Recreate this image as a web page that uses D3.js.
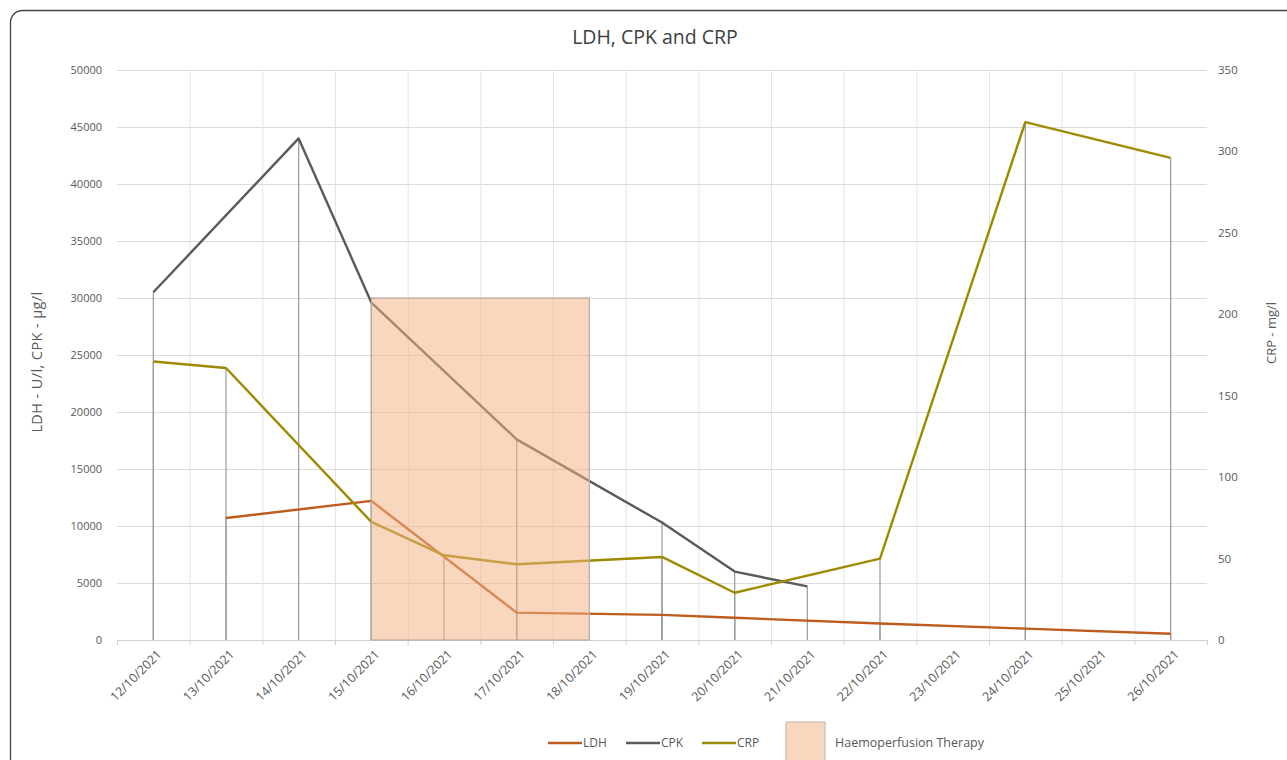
<!DOCTYPE html>
<html>
<head>
<meta charset="utf-8">
<script src="https://cdn.jsdelivr.net/npm/d3@7"></script>
<style>
  body { margin: 0; background: #fff; }
  text { font-family: "Open Sans", "Noto Sans", sans-serif; fill: #595959; }
</style>
</head>
<body>
<div id="divChart"></div>
<script>
// categories on the x axis
var dates = ['12/10/2021','13/10/2021','14/10/2021','15/10/2021','16/10/2021','17/10/2021','18/10/2021',
  '19/10/2021','20/10/2021','21/10/2021','22/10/2021','23/10/2021','24/10/2021','25/10/2021','26/10/2021'];

// series values, null where nothing was measured
var ldhValues = [null, 10700, null, 12200, null, 2400, null, 2200, 1950, null, 1450, null, 1000, null, 550];
var cpkValues = [30500, null, 44000, 29600, null, 17600, null, 10300, 6000, 4700, null, null, null, null, null];
var crpValues = [171, 167, null, 72.5, 52, 46.5, null, 51, 29, null, 50, null, 318, null, 296];

// left and right axis ticks
var leftTicks = [0, 5000, 10000, 15000, 20000, 25000, 30000, 35000, 40000, 45000, 50000];
var rightTicks = [0, 50, 100, 150, 200, 250, 300, 350];

// therapy window
var therapyStart = '15/10/2021';
var therapyEnd = '18/10/2021';
var therapyTop = 30000;

var width = 1287, height = 760;
var plot = {left: 117, right: 1207, top: 70, bottom: 640};

var svg = d3.select('#divChart').append('svg')
  .attr('width', width)
  .attr('height', height);

// outer frame, cut by the page edges like in the picture
svg.append('rect')
  .attr('x', 10.5).attr('y', 10.5)
  .attr('width', 1400).attr('height', 900)
  .attr('rx', 12)
  .attr('fill', 'none')
  .attr('stroke', '#444')
  .attr('stroke-width', 1.3);

var x = d3.scaleBand().domain(dates).range([plot.left, plot.right]);
var cx = function(d){ return x(d) + x.bandwidth() / 2; };
var yLeft = d3.scaleLinear().domain([0, 50000]).range([plot.bottom, plot.top]);
var yRight = d3.scaleLinear().domain([0, 350]).range([plot.bottom, plot.top]);

// gridlines
var grid = svg.append('g').attr('class', 'grid');
grid.selectAll('line.h').data(leftTicks.slice(1)).enter().append('line')
  .attr('x1', plot.left).attr('x2', plot.right)
  .attr('y1', function(d){ return yLeft(d) + 0.5; })
  .attr('y2', function(d){ return yLeft(d) + 0.5; })
  .attr('stroke', '#dcdcdc').attr('stroke-width', 1);
grid.selectAll('line.v').data(dates.slice(1)).enter().append('line')
  .attr('x1', function(d){ return x(d) + 0.5; })
  .attr('x2', function(d){ return x(d) + 0.5; })
  .attr('y1', plot.top).attr('y2', plot.bottom)
  .attr('stroke', '#e4e4e4').attr('stroke-width', 1);

// x axis line and small tick marks between categories
svg.append('line')
  .attr('x1', plot.left).attr('x2', plot.right)
  .attr('y1', plot.bottom + 0.5).attr('y2', plot.bottom + 0.5)
  .attr('stroke', '#d0d0d0').attr('stroke-width', 1.2);
svg.append('g').selectAll('line').data(dates.concat(['end'])).enter().append('line')
  .attr('x1', function(d, i){ return plot.left + i * x.bandwidth() + 0.5; })
  .attr('x2', function(d, i){ return plot.left + i * x.bandwidth() + 0.5; })
  .attr('y1', plot.bottom).attr('y2', plot.bottom + 5)
  .attr('stroke', '#d0d0d0');

// series
var series = [
  {name: 'LDH', values: ldhValues, scale: yLeft, color: '#bd5c1c'},
  {name: 'CPK', values: cpkValues, scale: yLeft, color: '#5a5a5a'},
  {name: 'CRP', values: crpValues, scale: yRight, color: '#9e8a00'}
];
series.forEach(function(s){
  s.points = dates.map(function(d, i){ return {date: d, value: s.values[i]}; })
    .filter(function(p){ return p.value !== null; });
});

// drop lines from every point down to the axis
var drops = svg.append('g').attr('class', 'drops');
series.forEach(function(s){
  drops.selectAll(null).data(s.points).enter().append('line')
    .attr('x1', function(p){ return cx(p.date); })
    .attr('x2', function(p){ return cx(p.date); })
    .attr('y1', function(p){ return s.scale(p.value); })
    .attr('y2', plot.bottom)
    .attr('stroke', '#9a9a9a').attr('stroke-width', 1.2);
});

series.forEach(function(s){
  var line = d3.line()
    .x(function(p){ return cx(p.date); })
    .y(function(p){ return s.scale(p.value); });
  svg.append('path')
    .datum(s.points)
    .attr('d', line)
    .attr('fill', 'none')
    .attr('stroke', s.color)
    .attr('stroke-width', 2.4)
    .attr('stroke-linejoin', 'round');
});

// therapy box drawn over the lines, semi transparent
svg.append('rect')
  .attr('x', cx(therapyStart))
  .attr('y', yLeft(therapyTop))
  .attr('width', cx(therapyEnd) - cx(therapyStart))
  .attr('height', plot.bottom - yLeft(therapyTop))
  .attr('fill', '#f4b183').attr('fill-opacity', 0.52)
  .attr('stroke', '#b9aaa0').attr('stroke-width', 1.2);

// axis labels
svg.append('g').selectAll('text').data(leftTicks).enter().append('text')
  .attr('x', 102)
  .attr('y', function(d){ return yLeft(d); })
  .attr('dy', '0.35em')
  .attr('text-anchor', 'end')
  .style('font-size', '11px')
  .text(function(d){ return d; });
svg.append('g').selectAll('text').data(rightTicks).enter().append('text')
  .attr('x', 1218)
  .attr('y', function(d){ return yRight(d); })
  .attr('dy', '0.35em')
  .style('font-size', '11.5px')
  .text(function(d){ return d; });
svg.append('g').selectAll('text').data(dates).enter().append('text')
  .attr('transform', function(d){ return 'translate(' + (cx(d) + 6) + ',' + 652 + ') rotate(-45)'; })
  .attr('text-anchor', 'end')
  .attr('dy', '0.35em')
  .style('font-size', '12.5px')
  .text(function(d){ return d; });

// titles
svg.append('text')
  .attr('x', 655).attr('y', 44)
  .attr('text-anchor', 'middle')
  .style('font-size', '19.5px')
  .style('fill', '#404040')
  .text('LDH, CPK and CRP');
svg.append('text')
  .attr('transform', 'translate(42,362) rotate(-90)')
  .attr('text-anchor', 'middle')
  .style('font-size', '14.5px')
  .style('letter-spacing', '0.4px')
  .text('LDH - U/l, CPK - µg/l');
svg.append('text')
  .attr('transform', 'translate(1276,333) rotate(-90)')
  .attr('text-anchor', 'middle')
  .style('font-size', '13px')
  .text('CRP - mg/l');

// legend
var legend = svg.append('g').attr('transform', 'translate(548,743)');
var legendX = [0, 78, 154];
series.forEach(function(s, i){
  legend.append('line')
    .attr('x1', legendX[i]).attr('x2', legendX[i] + 34)
    .attr('y1', 0).attr('y2', 0)
    .attr('stroke', s.color).attr('stroke-width', 2.4);
  legend.append('text')
    .attr('x', legendX[i] + 35).attr('y', 0).attr('dy', '0.35em')
    .style('font-size', '12px')
    .text(s.name);
});
legend.append('rect')
  .attr('x', 238).attr('y', -21)
  .attr('width', 39).attr('height', 50)
  .attr('fill', '#f4b183').attr('fill-opacity', 0.52)
  .attr('stroke', '#c9bdb5').attr('stroke-width', 1.2);
legend.append('text')
  .attr('x', 287).attr('y', 0).attr('dy', '0.35em')
  .style('font-size', '12.5px')
  .text('Haemoperfusion Therapy');
</script>
</body>
</html>
